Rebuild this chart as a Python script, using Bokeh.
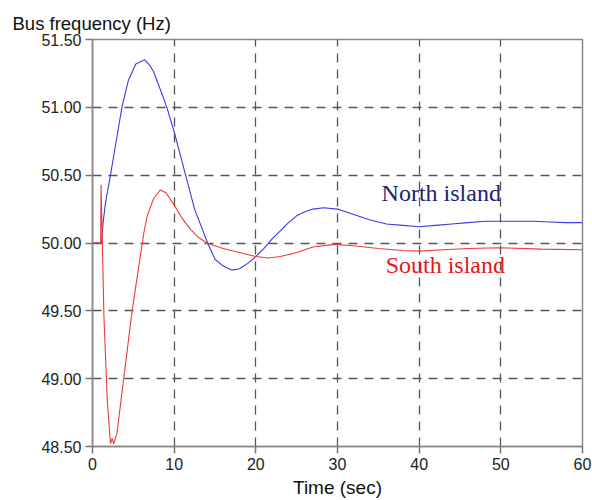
from bokeh.plotting import figure
from bokeh.models import Range1d, FixedTicker, NumeralTickFormatter
from bokeh.core.properties import value
from bokeh.embed import file_html
from bokeh.resources import INLINE

# North island bus frequency
north_t = [0, 1.1, 1.3, 1.6, 2.2, 2.9, 3.6, 4.4, 5.3, 6.0, 6.4, 7.0, 7.5, 8.5, 9.1, 10,
           11.4, 12.5, 14.1, 15, 16, 17.1, 18, 19, 20, 21, 22, 23, 24, 25, 26, 27, 28.3,
           30, 32, 34, 36, 38, 40, 42, 44, 46, 48, 50, 52, 54, 56, 58, 60]
north_f = [50.0, 50.0, 50.15, 50.3, 50.5, 50.75, 51.0, 51.2, 51.32, 51.34, 51.35, 51.31,
           51.26, 51.1, 51.0, 50.82, 50.5, 50.25, 50.0, 49.88, 49.83, 49.80, 49.81, 49.85,
           49.90, 49.96, 50.03, 50.09, 50.15, 50.2, 50.23, 50.25, 50.26, 50.25, 50.21,
           50.17, 50.14, 50.13, 50.12, 50.13, 50.14, 50.15, 50.16, 50.16, 50.16, 50.16,
           50.155, 50.15, 50.15]

# South island bus frequency
south_t = [0, 1.0, 1.05, 1.4, 1.8, 2.2, 2.4, 2.6, 3.0, 3.8, 4.85, 5.6, 6.27, 6.7, 7.5,
           8.3, 9.0, 10.1, 11, 12, 13, 14, 16, 18, 20, 21.5, 23, 25, 27, 29.5, 32, 35,
           38, 40, 43, 46, 50, 55, 60]
south_f = [50.0, 50.0, 50.43, 49.46, 48.85, 48.52, 48.56, 48.52, 48.6, 48.99, 49.5, 49.8,
           50.07, 50.2, 50.33, 50.39, 50.37, 50.27, 50.18, 50.1, 50.04, 50.0, 49.96, 49.93,
           49.90, 49.89, 49.90, 49.93, 49.97, 49.99, 49.98, 49.96, 49.945, 49.94, 49.95,
           49.96, 49.965, 49.955, 49.95]

x_ticks = [0, 10, 20, 30, 40, 50, 60]
y_ticks = [48.5, 49.0, 49.5, 50.0, 50.5, 51.0, 51.5]

p = figure(width=592, height=500, output_backend="svg", toolbar_location=None,
           x_range=Range1d(0, 60), y_range=Range1d(48.5, 51.5),
           min_border_left=92, min_border_right=10, min_border_top=39, min_border_bottom=53)

p.title.text = "Bus frequency (Hz)"
p.title.align = "left"
p.title.offset = -80
p.title.text_font = "Liberation Sans"
p.title.text_font_size = "18.5px"
p.title.text_font_style = "normal"
p.title.text_color = "#111111"
p.title.standoff = 11

p.xaxis.ticker = FixedTicker(ticks=x_ticks)
p.yaxis.ticker = FixedTicker(ticks=y_ticks)
p.yaxis.formatter = NumeralTickFormatter(format="0.00")
p.xaxis.axis_label = "Time (sec)"

for ax in (p.xaxis, p.yaxis):
    ax.axis_line_color = "#888888"
    ax.axis_line_width = 1.5
    ax.major_tick_line_color = "#777777"
    ax.major_tick_line_width = 1.5
    ax.major_tick_out = 7
    ax.major_tick_in = 0
    ax.minor_tick_line_color = None
    ax.major_label_text_font = "Liberation Sans"
    ax.major_label_text_font_size = "16px"
    ax.major_label_text_color = "#222222"
    ax.major_label_standoff = 4
    ax.axis_label_text_font = "Liberation Sans"
    ax.axis_label_text_font_size = "19px"
    ax.axis_label_text_font_style = "normal"
    ax.axis_label_text_color = "#111111"
    ax.axis_label_standoff = 4

p.xgrid.ticker = FixedTicker(ticks=x_ticks[1:-1])
p.ygrid.ticker = FixedTicker(ticks=y_ticks[1:-1])
for g in (p.xgrid, p.ygrid):
    g.grid_line_color = "#555555"
    g.grid_line_width = 1.3
    g.grid_line_dash = "9 7"

p.outline_line_color = "#888888"
p.outline_line_width = 1.5

p.line(north_t, north_f, line_color="#3b3be8", line_width=1.1)
p.line(south_t, south_f, line_color="#ee3a3a", line_width=1.1)

p.text(x=[42.7], y=[50.37], text=["North island"], text_font=value("Liberation Serif"),
       text_font_size="24px", text_color="#1c2470", text_align="center",
       text_baseline="middle")
p.text(x=[43.2], y=[49.84], text=["South island"], text_font=value("Liberation Serif"),
       text_font_size="24px", text_color="#e8161b", text_align="center",
       text_baseline="middle")

open("out.html", "w").write(file_html(p, INLINE))
